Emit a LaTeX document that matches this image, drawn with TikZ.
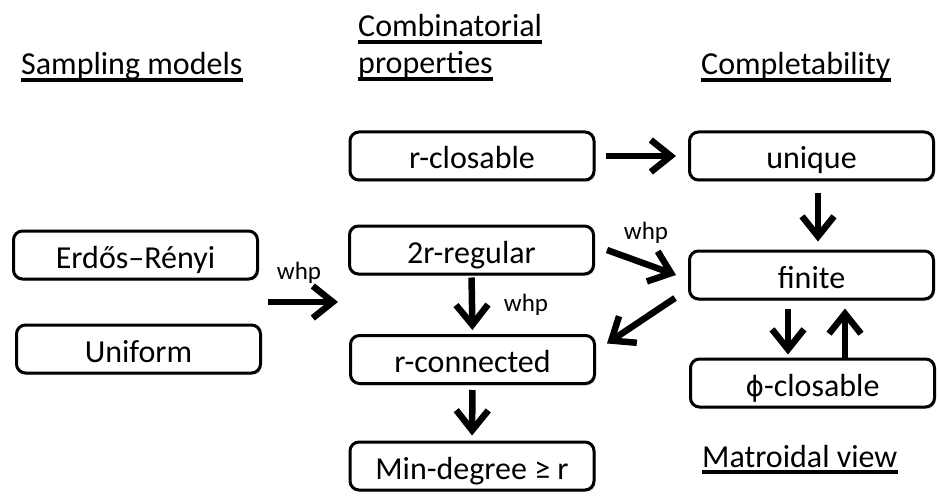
\documentclass[tikz,border=0pt]{standalone}
\usepackage{fontspec}
\setmainfont{Carlito}
\newfontfamily\symfont{DejaVu Sans}
\usetikzlibrary{arrows.meta,shadows}

\begin{document}
\begin{tikzpicture}[x=1pt,y=-1pt,
  box/.style={draw, line width=3pt, rounded corners=9pt, fill=white,
    minimum width=#1, minimum height=48pt, inner sep=0pt,
    text height=27pt, text depth=1pt,
    font=\fontsize{32}{38}\selectfont,
    drop shadow={shadow xshift=1.5pt, shadow yshift=-2pt, opacity=0.25}},
  box/.default=244pt,
  arr/.style={line width=6.5pt, -{Straight Barb[length=20pt,width=32pt]}},
  lbl/.style={font=\fontsize{25}{30}\selectfont, inner sep=0pt},
  head/.style={font=\fontsize{32}{38}\selectfont, inner sep=0pt, anchor=base west},
  uline/.style={line width=3.5pt}]
\useasboundingbox (0,0) rectangle (939,497);

% column headings
\node[head] (hsamp) at (21,75) {Sampling models};
\node[head] (hcomb1) at (358,37) {Combinatorial};
\node[head] (hcomb2) at (358,74) {properties};
\node[head] (hcompl) at (701,75) {Completability};
\node[head] (hmat) at (702,467) {Matroidal view};
\foreach \h in {hsamp,hcomb1,hcomb2,hcompl,hmat}
  \draw[uline] ([yshift=-5pt]\h.base west) -- ([yshift=-5pt]\h.base east);

% sampling models
\node[box] (er) at (135.5,255) {Erdős–Rényi};
\node[box] (unif) at (138.5,349) {Uniform};

% combinatorial properties
\node[box] (rclos) at (472,156) {r-closable};
\node[box] (reg) at (471.5,250) {2r-regular};
\node[box] (rconn) at (472.5,359.5) {r-connected};
\node[box] (mindeg) at (472,466) {Min-degree ≥ r};

% completability / matroidal view
\node[box] (uniq) at (811.5,156) {unique};
\node[box] (fin) at (811.5,275) {finite};
\node[box] (phic) at (812.5,383) {{\symfont\fontsize{28}{34}\selectfont ϕ}-closable};

% implications
\coordinate (s1) at (268,302);
\coordinate (s2) at (338,302);
\draw[arr] (s1) -- (s2);
\node[lbl] (w1) at (299,273) {whp};

\draw[arr, shorten <=10pt, shorten >=12pt] (rclos.east) -- (uniq.west);
\draw[arr, shorten <=12pt, shorten >=8pt] ([xshift=6.5pt]uniq.south) -- ([xshift=6.5pt]fin.north);
\draw[arr, shorten <=2pt, shorten >=4pt] (reg.south) -- (rconn.north);
\node[lbl] (w2) at (526,305) {whp};
\draw[arr] ([xshift=12pt]reg.east) -- ([xshift=-12pt]fin.west);
\node[lbl] (w3) at (646,233) {whp};
\draw[arr] ([shift={(-13,23)}]fin.west) -- ([shift={(11,-16)}]rconn.east);
\draw[arr, shorten <=8pt, shorten >=3pt] ([xshift=-23.5pt]fin.south) -- ([xshift=-24.5pt]phic.north);
\draw[arr, shorten >=8pt] ([xshift=32.5pt]phic.north) -- ([xshift=33.5pt]fin.south);
\draw[arr, shorten <=5pt, shorten >=5pt] (rconn.south) -- (mindeg.north);
\end{tikzpicture}
\end{document}
